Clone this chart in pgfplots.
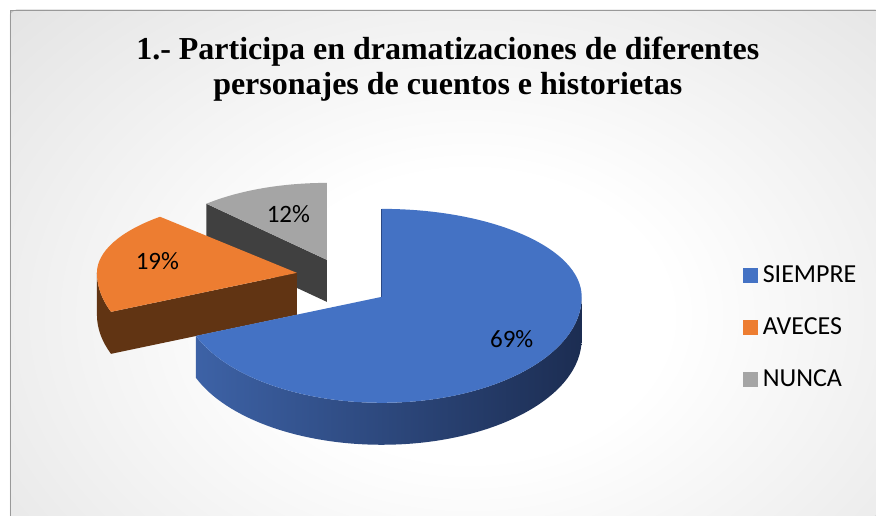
\documentclass[border=0pt]{standalone}
\usepackage{pgfplots}
\pgfplotsset{compat=1.18}
\usepackage{pgfplotstable}
\usepackage{fontspec}
\setmainfont{Liberation Serif}
\newfontfamily\calibri{Carlito}

\definecolor{cBlue}{HTML}{4472C4}
\definecolor{cBlueL}{HTML}{3D62A6}
\definecolor{cBlueM}{HTML}{2B4985}
\definecolor{cBlueD}{HTML}{1C2D52}
\definecolor{cOrange}{HTML}{ED7D31}
\definecolor{cOrangeD}{HTML}{613413}
\definecolor{cGray}{HTML}{A5A5A5}
\definecolor{cGrayD}{HTML}{404040}
\definecolor{bgGray}{HTML}{C6C6C6}
\pgfdeclareradialshading{bgshade}{\pgfpoint{0bp}{0bp}}{color(0bp)=(white); color(8bp)=(white); color(44bp)=(bgGray); color(50bp)=(bgGray)}

\pgfplotstableread{
label value
SIEMPRE 69
AVECES 19
NUNCA 12
}\piedata

\begin{document}
\begin{tikzpicture}
\pgfplotstablegetelem{0}{value}\of\piedata \let\vA\pgfplotsretval
\pgfplotstablegetelem{1}{value}\of\piedata \let\vB\pgfplotsretval
\pgfplotstablegetelem{2}{value}\of\piedata \let\vC\pgfplotsretval
% angles (clockwise from 12 o'clock)
\pgfmathsetmacro\aA{90}
\pgfmathsetmacro\aB{\aA-3.6*\vA}
\pgfmathsetmacro\aC{\aB-3.6*\vB}
\pgfmathsetmacro\aD{\aC-3.6*\vC}
% geometry (simple perspective: back half flatter)
\def\rx{200}\def\ryt{88}\def\ryb{106}\def\th{42}
\def\ryto{77}            % orange back half
\def\rxg{176}\def\ryg{77} % gray (farthest back)
% apexes (exploded offsets)
\def\bx{382}\def\by{219}
\def\ox{297}\def\oy{243}
\def\gx{327}\def\gy{256}
% derived points
\pgfmathsetmacro\bTopY{\by+\ryt}
\pgfmathsetmacro\bLx{\bx+\rx*cos(\aB)}
\pgfmathsetmacro\bLy{\by+\ryb*sin(\aB)}
\pgfmathsetmacro\bRx{\bx+\rx}
\pgfmathsetmacro\bRyb{\by-\th}
\pgfmathsetmacro\oLx{\ox+\rx*cos(\aB)}
\pgfmathsetmacro\oLy{\oy+\ryb*sin(\aB)}
\pgfmathsetmacro\oLyb{\oLy-\th}
\pgfmathsetmacro\oyb{\oy-\th}
\pgfmathsetmacro\oWx{\ox-\rx}
\pgfmathsetmacro\gLx{\gx+\rxg*cos(\aC)}
\pgfmathsetmacro\gLy{\gy+\ryg*sin(\aC)}
\pgfmathsetmacro\gLyb{\gLy-\th}
\pgfmathsetmacro\gyb{\gy-\th}
\begin{axis}[
  at={(0pt,0pt)}, anchor=origin,
  width=876pt, height=516pt, scale only axis,
  xmin=0, xmax=876, ymin=0, ymax=516,
  axis lines=none, enlargelimits=false, clip=false,
]
% background
\fill[white] (axis cs:0,0) rectangle (axis cs:876,516);
\fill[bgGray] (axis cs:10,0) rectangle (axis cs:876,506);
\begin{pgfinterruptboundingbox}
\begin{scope}
  \clip (axis cs:10,0) rectangle (axis cs:876,506);
  \shade[shading=bgshade] (axis cs:470,200) ellipse [x radius=620pt, y radius=450pt];
\end{scope}
\end{pgfinterruptboundingbox}
\draw[black!40, line width=0.9pt] (axis cs:10,0) -- (axis cs:10,506) -- (axis cs:876,506);

% ---- NUNCA (gray) ----
\fill[cGrayD] (axis cs:\gx,\gy) -- (axis cs:\gLx,\gLy) -- (axis cs:\gLx,\gLyb) -- (axis cs:\gx,\gyb) -- cycle;
\fill[cGray] (axis cs:\gx,\gy) -- (axis cs:\gLx,\gLy)
   arc[start angle=\aC, end angle=\aD, x radius=\rxg pt, y radius=\ryg pt] -- cycle;

% ---- AVECES (orange) ----
\fill[cOrangeD] (axis cs:\oWx,\oy) arc[start angle=-180, end angle=\aB, x radius=\rx pt, y radius=\ryb pt]
   -- (axis cs:\oLx,\oLyb) arc[start angle=\aB, end angle=-180, x radius=\rx pt, y radius=\ryb pt] -- cycle;
\fill[cOrangeD] (axis cs:\ox,\oy) -- (axis cs:\oLx,\oLy) -- (axis cs:\oLx,\oLyb) -- (axis cs:\ox,\oyb) -- cycle;
\fill[cOrange] (axis cs:\ox,\oy) -- (axis cs:\oLx,\oLy)
   arc[start angle=\aB, end angle=-180, x radius=\rx pt, y radius=\ryb pt]
   arc[start angle=-180, end angle=\aC, x radius=\rx pt, y radius=\ryto pt] -- cycle;

% ---- SIEMPRE (blue) ----
\shade[left color=cBlueL, middle color=cBlueM, right color=cBlueD]
   (axis cs:\bLx,\bLy) arc[start angle=\aB, end angle=0, x radius=\rx pt, y radius=\ryb pt]
   -- (axis cs:\bRx,\bRyb) arc[start angle=0, end angle=\aB, x radius=\rx pt, y radius=\ryb pt] -- cycle;
\fill[cBlue] (axis cs:\bx,\by) -- (axis cs:\bx,\bTopY)
   arc[start angle=\aA, end angle=0, x radius=\rx pt, y radius=\ryt pt]
   arc[start angle=0, end angle=\aB, x radius=\rx pt, y radius=\ryb pt] -- cycle;
\draw[cBlueM, line width=1.2pt] (axis cs:\bx,\bTopY) -- (axis cs:\bx,\by);

% data labels
\node[anchor=base, font=\calibri\fontsize{25}{25}\selectfont] at (axis cs:512,168) {69\%};
\node[anchor=base, font=\calibri\fontsize{25}{25}\selectfont] at (axis cs:157.5,246) {19\%};
\node[anchor=base, font=\calibri\fontsize{25}{25}\selectfont] at (axis cs:288.5,293) {12\%};

% title
\node[anchor=base, font=\bfseries\fontsize{32}{37}\selectfont] at (axis cs:448,456) {1.- Participa en dramatizaciones de diferentes};
\node[anchor=base, font=\bfseries\fontsize{32}{37}\selectfont] at (axis cs:448,421) {personajes de cuentos e historietas};

% legend
\fill[cBlue] (axis cs:743,233) rectangle (axis cs:758,248);
\node[anchor=base west, inner sep=0pt, font=\calibri\fontsize{26}{26}\selectfont] at (axis cs:763,233) {SIEMPRE};
\fill[cOrange] (axis cs:743,181) rectangle (axis cs:758,196);
\node[anchor=base west, inner sep=0pt, font=\calibri\fontsize{26}{26}\selectfont] at (axis cs:763,181) {AVECES};
\fill[cGray] (axis cs:743,129) rectangle (axis cs:758,144);
\node[anchor=base west, inner sep=0pt, font=\calibri\fontsize{26}{26}\selectfont] at (axis cs:763,129) {NUNCA};
\end{axis}
\end{tikzpicture}
\end{document}
